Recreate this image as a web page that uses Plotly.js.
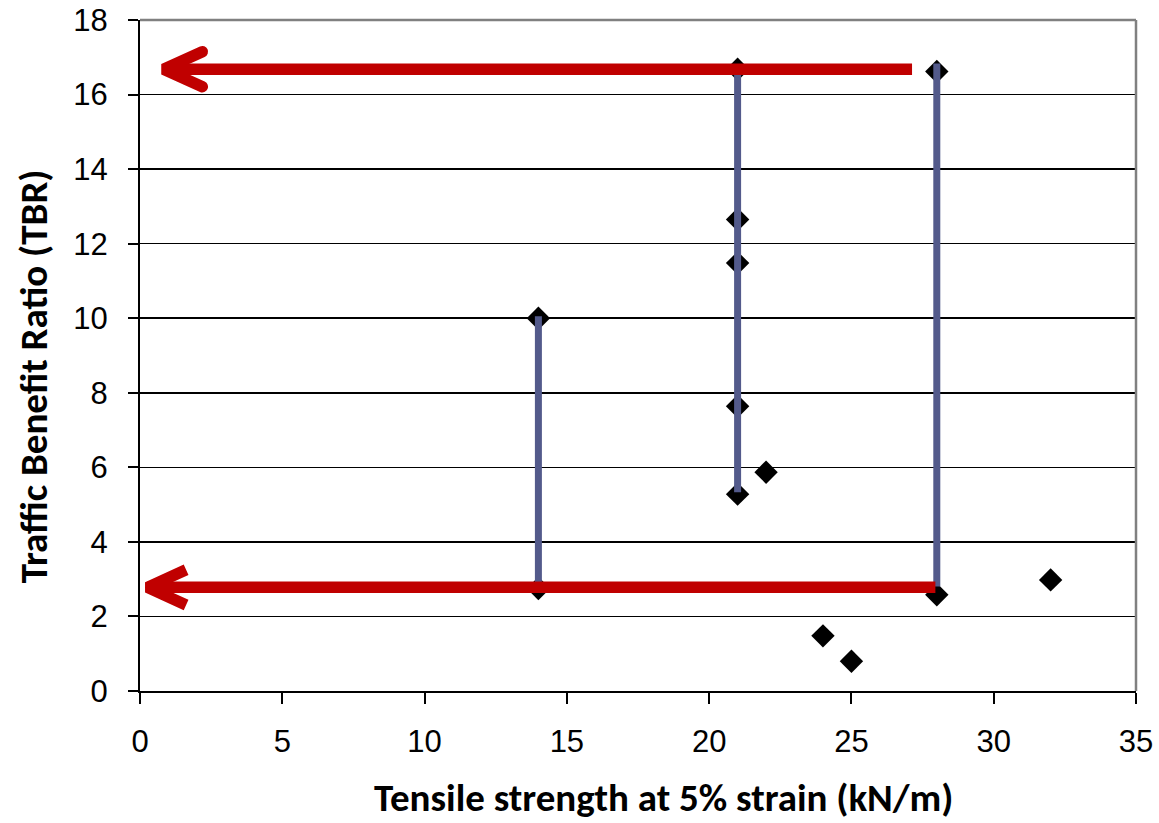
<!DOCTYPE html>
<html>
<head>
<meta charset="utf-8">
<script src="https://cdn.plot.ly/plotly-3.0.1.min.js"></script>
<style>
  html, body { margin: 0; padding: 0; background: #fff; }
  #chart { width: 1159px; height: 823px; }
</style>
</head>
<body>
<div id="chart"></div>
<script>
// Measured test points: tensile strength at 5% strain vs. traffic benefit ratio
const strength = [14, 14, 21, 21, 21, 21, 21, 22, 24, 25, 28, 28, 32];
const tbr      = [10.0, 2.75, 16.68, 12.65, 11.48, 7.64, 5.28, 5.87, 1.48, 0.8, 16.62, 2.58, 2.98];

// Vertical range bars for each product strength
const rangeX    = [14, 21, 28];
const rangeLow  = [2.75, 5.33, 2.8];
const rangeHigh = [10.05, 16.7, 16.83];

// Horizontal red arrows pointing back to the TBR axis
const arrowY    = [16.68, 2.78];
const arrowTail = [27.13, 27.95];
const arrowTip  = [0.63, 0.06];

// Arrow head geometry (axis units)
const headInset = 0.2;
const headLen = 1.36;
const headHalf = 0.47;

const rangeXs = [], rangeYs = [];
rangeX.forEach((x, i) => {
  rangeXs.push(x, x, null);
  rangeYs.push(rangeLow[i], rangeHigh[i], null);
});

const shaftX = [], shaftY = [], headX = [], headY = [];
arrowY.forEach((y, i) => {
  const v = arrowTip[i] + headInset;
  shaftX.push(arrowTail[i], v, null);
  shaftY.push(y, y, null);
  headX.push(v + headLen, v, v + headLen, null);
  headY.push(y + headHalf, y, y - headHalf, null);
});

const red = '#c00000';
const traces = [
  {
    type: 'scatter', mode: 'markers', x: strength, y: tbr,
    marker: { symbol: 'diamond', size: 18, color: '#000' },
    hoverinfo: 'x+y'
  },
  {
    type: 'scatter', mode: 'lines', x: rangeXs, y: rangeYs,
    line: { color: '#535a8b', width: 7 }, hoverinfo: 'skip'
  },
  {
    type: 'scatter', mode: 'lines', x: shaftX, y: shaftY,
    line: { color: red, width: 11.5 }, hoverinfo: 'skip'
  },
  {
    type: 'scatter', mode: 'lines', x: headX, y: headY,
    line: { color: red, width: 11.5 }, hoverinfo: 'skip'
  }
];

const tickFont = { family: 'Liberation Sans, Arial, sans-serif', size: 31, color: '#000' };
const titleFont = { family: 'Carlito, Lato, sans-serif', size: 39, color: '#000', weight: 'bold' };

const layout = {
  width: 1159, height: 823,
  margin: { l: 140, r: 23, t: 20, b: 132 },
  paper_bgcolor: '#fff', plot_bgcolor: '#fff',
  showlegend: false,
  xaxis: {
    range: [0, 35], dtick: 5, tick0: 0,
    showgrid: false, zeroline: false,
    showline: true, linecolor: '#000', linewidth: 2,
    ticks: 'outside', ticklen: 11, tickwidth: 2, tickcolor: '#000',
    tickfont: tickFont, ticklabelstandoff: 11
  },
  yaxis: {
    range: [0, 18], dtick: 2, tick0: 0,
    showgrid: true, gridcolor: '#000', gridwidth: 1.5,
    zeroline: false,
    showline: true, linecolor: '#000', linewidth: 2,
    ticks: 'outside', ticklen: 10, tickwidth: 2, tickcolor: '#000',
    tickfont: tickFont, ticklabelstandoff: 14
  },
  shapes: [
    { type: 'line', xref: 'paper', yref: 'paper', x0: 0, x1: 1, y0: 1, y1: 1,
      line: { color: '#808080', width: 2.5 }, layer: 'above' },
    { type: 'line', xref: 'paper', yref: 'paper', x0: 1, x1: 1, y0: 0, y1: 1,
      line: { color: '#808080', width: 2.5 }, layer: 'above' }
  ],
  annotations: [
    { text: 'Tensile strength at 5% strain (kN/m)', xref: 'paper', yref: 'paper',
      x: 0.526, y: -0.158, showarrow: false, font: titleFont,
      xanchor: 'center', yanchor: 'middle' },
    { text: 'Traffic Benefit Ratio (TBR)', xref: 'paper', yref: 'paper',
      x: -0.1074, y: 0.469, showarrow: false, font: titleFont, textangle: -90,
      xanchor: 'center', yanchor: 'middle' }
  ]
};

Plotly.newPlot('chart', traces, layout, { displayModeBar: false, staticPlot: true }).then(gd => {
  // rounded ends on the arrow-head strokes
  const tr = gd.querySelectorAll('.scatterlayer .trace');
  const head = tr[3] && tr[3].querySelector('path.js-line');
  if (head) head.style.strokeLinecap = 'round';
});
</script>
</body>
</html>
